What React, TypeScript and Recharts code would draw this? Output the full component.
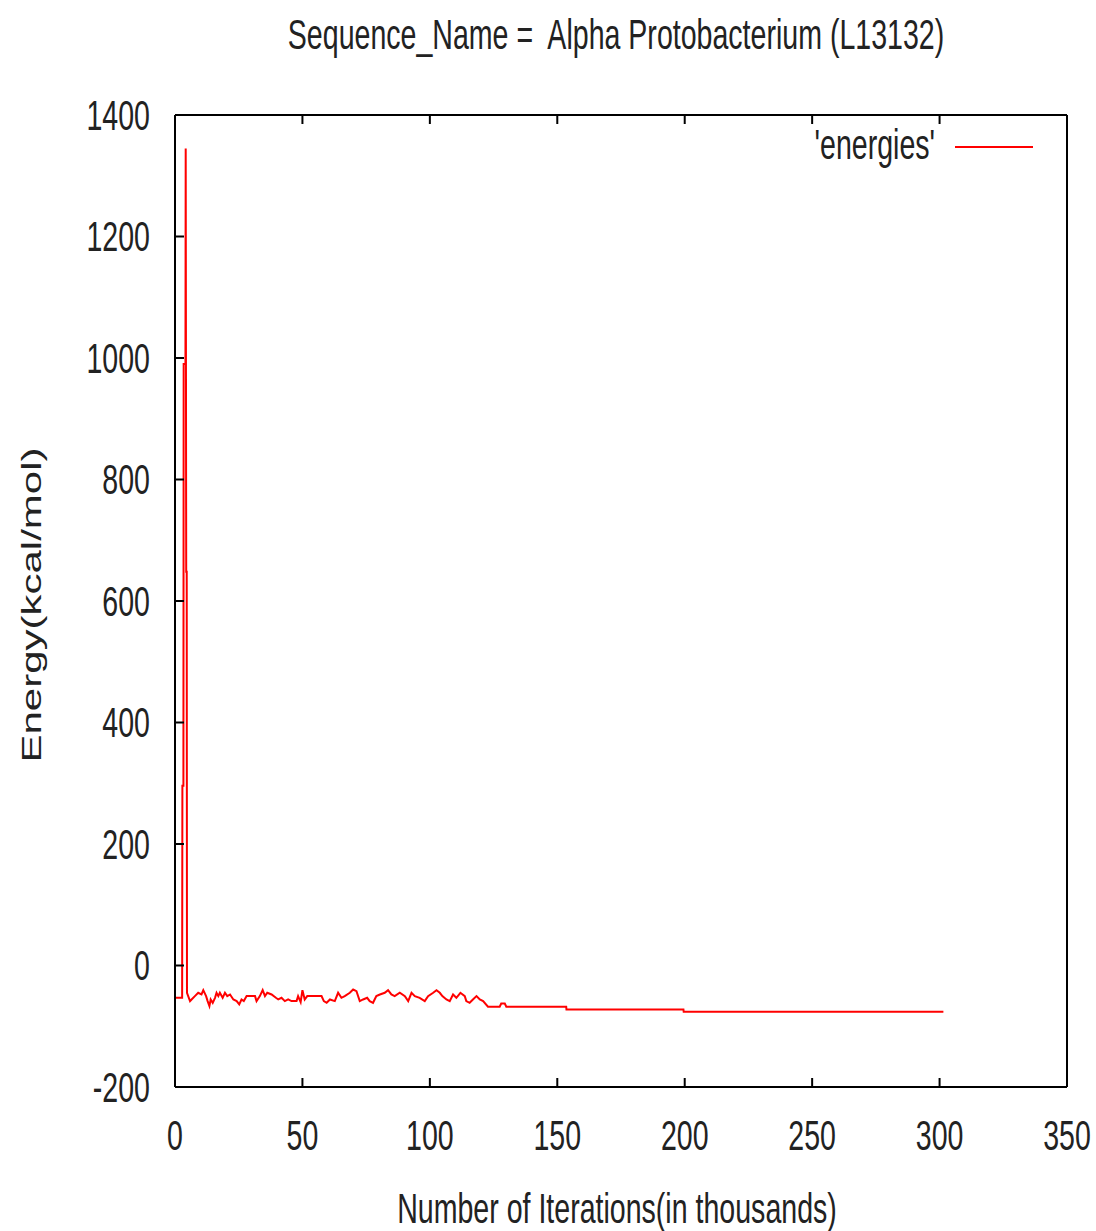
import React from "react"
import {
  LineChart,
  Line,
  XAxis,
  YAxis,
  Legend,
  Label,
} from "recharts"

// iterations (thousands) and energies
const iterations = [
  0, 2.8, 2.9, 3.3, 3.4, 4.1, 4.2, 4.4, 4.6, 4.7, 5.9, 6.5, 7.8, 9.1, 10.4,
  11.1, 12.2, 12.8, 13.5, 14.0, 14.8, 15.7, 16.3, 17.0, 17.6, 18.7, 19.6,
  20.5, 21.6, 22.9, 24.2, 25.2, 26.1, 27.0, 28.1, 31.4, 32.0, 33.3, 34.4,
  35.3, 36.2, 37.9, 39.6, 40.5, 41.8, 43.1, 44.4, 45.7, 47.7, 48.3, 49.3,
  50.0, 50.9, 51.9, 57.5, 58.4, 59.5, 60.8, 62.7, 64.0, 65.3, 66.6, 68.6,
  69.9, 71.2, 72.5, 73.8, 75.4, 76.4, 77.7, 79.0, 80.4, 82.3, 83.6, 84.9,
  86.2, 88.2, 90.2, 91.5, 92.8, 94.1, 96.0, 98.0, 99.3, 101.3, 102.6, 103.9,
  104.9, 106.5, 107.8, 109.1, 110.4, 112.0, 113.7, 114.3, 115.6, 116.9,
  118.3, 119.6, 120.9, 122.8, 127.4, 128.0, 129.4, 130.0, 153.5, 153.6,
  199.5, 199.6, 301.5,
]
const energies = [
  -53, -53, 296, 296, 990, 990, 1345, 648, 648, -45, -58.6, -55.9, -50.4,
  -44.9, -47.7, -40.6, -50.4, -58.6, -66.8, -55.9, -61.4, -53.2, -44.9,
  -50.4, -44.9, -53.2, -44.9, -50.4, -47.7, -55.9, -58.6, -64.1, -55.9,
  -58.6, -50.4, -50.4, -58.6, -50.4, -40.6, -50.4, -44.9, -47.7, -53.2,
  -55.9, -53.2, -58.6, -55.9, -58.6, -58.6, -50.4, -60.3, -40.6, -55.9,
  -50.4, -50.4, -58.6, -61.4, -55.9, -58.6, -44.9, -53.2, -50.4, -44.9,
  -39.5, -42.2, -58.6, -55.9, -53.2, -58.6, -61.4, -50.4, -47.7, -44.9,
  -40.6, -47.7, -50.4, -44.9, -50.4, -58.6, -44.9, -50.4, -53.2, -58.6,
  -50.4, -44.9, -40.6, -44.9, -50.4, -55.9, -58.6, -47.7, -53.2, -44.9,
  -50.4, -58.6, -61.4, -55.9, -50.4, -55.9, -58.6, -67.9, -67.9, -62.5,
  -62.5, -67.9, -67.9, -72.4, -72.4, -76.2, -76.2,
]

const xTicks = [0, 50, 100, 150, 200, 250, 300, 350]
const yTicks = [-200, 0, 200, 400, 600, 800, 1000, 1200, 1400]

const data = iterations.map((it, i) => ({ iter: it, energy: energies[i] }))

const FONT = "'Liberation Sans', Arial, sans-serif"
const TEXT = "#222"
const SQUEEZE = 0.68
const TICK = 9

function LeftTick({ x, y, payload }: any) {
  return (
    <g>
      <line x1={x} x2={x + TICK} y1={y} y2={y} stroke="#000" strokeWidth={2} />
      <text
        transform={`translate(${x - 25},${y}) scale(${SQUEEZE},1)`}
        textAnchor="end"
        dominantBaseline="central"
        fontSize={42}
        fontFamily={FONT}
        fill={TEXT}
      >
        {payload.value}
      </text>
    </g>
  )
}

function RightTick({ x, y }: any) {
  return <line x1={x - TICK} x2={x} y1={y} y2={y} stroke="#000" strokeWidth={2} />
}

function BottomTick({ x, y, payload }: any) {
  return (
    <g>
      <line x1={x} x2={x} y1={y - TICK} y2={y} stroke="#000" strokeWidth={2} />
      <text
        transform={`translate(${x},${y + 48}) scale(${SQUEEZE},1)`}
        textAnchor="middle"
        dominantBaseline="central"
        fontSize={42}
        fontFamily={FONT}
        fill={TEXT}
      >
        {payload.value}
      </text>
    </g>
  )
}

function TopTick({ x, y }: any) {
  return <line x1={x} x2={x} y1={y} y2={y + TICK} stroke="#000" strokeWidth={2} />
}

function EnergyLegend() {
  return (
    <svg width={260} height={60} style={{ overflow: "visible" }}>
      <text
        transform={`translate(140,25) scale(${SQUEEZE},1)`}
        textAnchor="end"
        dominantBaseline="central"
        fontSize={42}
        fontFamily={FONT}
        fill={TEXT}
      >
        'energies'
      </text>
      <line x1={160} x2={238} y1={28} y2={28} stroke="#ff0000" strokeWidth={2} />
    </svg>
  )
}

export default function App() {
  return (
    <div style={{ position: "absolute", left: 0, top: 0, background: "#fff" }}>
      <LineChart
        width={1096}
        height={1231}
        data={data}
        margin={{ top: 114, right: 28, bottom: 84, left: 115 }}
      >
        <XAxis
          xAxisId="b"
          dataKey="iter"
          type="number"
          domain={[0, 350]}
          ticks={xTicks}
          interval={0}
          height={60}
          tickSize={0}
          tickMargin={0}
          tickLine={false}
          tick={<BottomTick />}
          axisLine={{ stroke: "#000", strokeWidth: 2 }}
        >
          <Label
            content={() => (
              <text
                transform={`translate(617,1208) scale(${SQUEEZE},1)`}
                textAnchor="middle"
                dominantBaseline="central"
                fontSize={42}
                fontFamily={FONT}
                fill={TEXT}
              >
                Number of Iterations(in thousands)
              </text>
            )}
          />
        </XAxis>
        <XAxis
          xAxisId="t"
          orientation="top"
          dataKey="iter"
          type="number"
          domain={[0, 350]}
          ticks={xTicks}
          interval={0}
          height={1}
          tickSize={0}
          tickMargin={0}
          tickLine={false}
          tick={<TopTick />}
          axisLine={{ stroke: "#000", strokeWidth: 2 }}
        >
          <Label
            content={() => (
              <text
                transform={`translate(616,34) scale(${SQUEEZE},1)`}
                textAnchor="middle"
                dominantBaseline="central"
                fontSize={42}
                fontFamily={FONT}
                fill={TEXT}
              >
                {"Sequence_Name =\u00a0 Alpha Protobacterium (L13132)"}
              </text>
            )}
          />
        </XAxis>
        <YAxis
          yAxisId="l"
          type="number"
          domain={[-200, 1400]}
          ticks={yTicks}
          interval={0}
          width={60}
          tickSize={0}
          tickMargin={0}
          tickLine={false}
          tick={<LeftTick />}
          axisLine={{ stroke: "#000", strokeWidth: 2 }}
        >
          <Label
            content={() => (
              <text
                transform={`translate(31,605) scale(${SQUEEZE},1) rotate(-90)`}
                textAnchor="middle"
                dominantBaseline="central"
                fontSize={42}
                fontFamily={FONT}
                fill={TEXT}
              >
                Energy(kcal/mol)
              </text>
            )}
          />
        </YAxis>
        <YAxis
          yAxisId="r"
          orientation="right"
          type="number"
          domain={[-200, 1400]}
          ticks={yTicks}
          interval={0}
          width={1}
          tickSize={0}
          tickMargin={0}
          tickLine={false}
          tick={<RightTick />}
          axisLine={{ stroke: "#000", strokeWidth: 2 }}
        />
        <Legend
          layout="vertical"
          align="center"
          verticalAlign="middle"
          content={<EnergyLegend />}
          wrapperStyle={{ position: "absolute", left: 795, top: 119, width: 260 }}
        />
        <Line
          xAxisId="b"
          yAxisId="l"
          type="linear"
          dataKey="energy"
          name="'energies'"
          stroke="#ff0000"
          strokeWidth={2}
          dot={false}
          isAnimationActive={false}
        />
      </LineChart>
    </div>
  )
}
